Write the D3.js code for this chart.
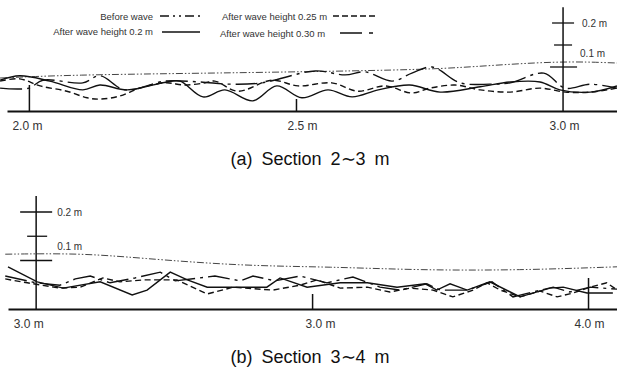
<!DOCTYPE html>
<html>
<head>
<meta charset="utf-8">
<script src="https://cdn.jsdelivr.net/npm/d3@7/dist/d3.min.js"></script>
<style>
  body { margin: 0; background: #fff; }
  text { font-family: "Liberation Sans", Arial, sans-serif; }
</style>
</head>
<body>
<svg id="chart" width="617" height="371"></svg>
<script>
const seriesNames = ["Before wave", "After wave height 0.2 m", "After wave height 0.25 m", "After wave height 0.30 m"];

// (a) Section 2~3 m  -> [distance (m), elevation above bed (m)]
const beforeA = [[1.946,0.075],[2.077,0.082],[2.339,0.086],[2.723,0.093],[2.826,0.100],[2.994,0.114],[3.101,0.109]];
const h020A = [[1.946,0.070],[1.983,0.080],[2.039,0.068],[2.101,0.048],[2.133,0.059],[2.184,0.048],[2.258,0.066],[2.283,0.068],
  [2.326,0.032],[2.367,0.048],[2.419,0.023],[2.464,0.057],[2.511,0.030],[2.560,0.048],[2.605,0.032],[2.654,0.048],[2.713,0.059],
  [2.770,0.043],[2.845,0.055],[2.901,0.066],[2.957,0.066],[2.994,0.048],[3.051,0.043],[3.101,0.057]];
const h025A = [[1.946,0.068],[1.983,0.073],[2.021,0.057],[2.071,0.045],[2.109,0.030],[2.133,0.027],[2.170,0.034],[2.208,0.052],
  [2.255,0.064],[2.292,0.059],[2.330,0.064],[2.348,0.068],[2.391,0.045],[2.455,0.070],[2.504,0.057],[2.567,0.064],[2.616,0.045],
  [2.667,0.057],[2.717,0.041],[2.751,0.052],[2.798,0.059],[2.845,0.048],[2.901,0.043],[2.957,0.052],[3.004,0.043],[3.051,0.043],[3.101,0.052]];
const h030A = [[1.946,0.052],[2.000,0.052],[2.026,0.070],[2.101,0.064],[2.133,0.080],[2.180,0.048],[2.255,0.068],[2.320,0.066],
  [2.376,0.061],[2.436,0.064],[2.536,0.091],[2.592,0.082],[2.629,0.089],[2.680,0.068],[2.717,0.086],[2.755,0.100],[2.807,0.064],
  [2.863,0.061],[2.901,0.064],[2.964,0.086],[3.004,0.052],[3.051,0.061],[3.101,0.052]];

// (b) Section 3~4 m
const beforeB = [[2.944,0.113],[3.080,0.115],[3.188,0.105],[3.370,0.089],[3.533,0.087],[3.696,0.080],[3.877,0.080],[4.053,0.087]];
const h020B = [[2.949,0.087],[3.002,0.056],[3.049,0.043],[3.116,0.056],[3.174,0.029],[3.201,0.039],[3.243,0.076],[3.274,0.060],
  [3.310,0.045],[3.370,0.045],[3.418,0.045],[3.442,0.064],[3.491,0.045],[3.551,0.054],[3.600,0.054],[3.654,0.045],[3.705,0.052],
  [3.726,0.039],[3.750,0.052],[3.781,0.039],[3.822,0.056],[3.877,0.025],[3.931,0.043],[3.955,0.045],[3.998,0.033],[4.045,0.033]];
const h025B = [[2.944,0.062],[2.984,0.054],[3.043,0.043],[3.080,0.045],[3.121,0.064],[3.152,0.056],[3.194,0.060],[3.255,0.060],
  [3.310,0.031],[3.357,0.045],[3.429,0.039],[3.478,0.049],[3.509,0.060],[3.551,0.043],[3.600,0.045],[3.641,0.035],[3.678,0.043],
  [3.719,0.039],[3.755,0.025],[3.792,0.039],[3.817,0.054],[3.841,0.039],[3.877,0.025],[3.913,0.037],[3.944,0.025],[3.973,0.033],
  [4.004,0.045],[4.034,0.054],[4.053,0.039]];
const h030B = [[2.944,0.068],[3.000,0.054],[3.043,0.049],[3.071,0.062],[3.098,0.068],[3.134,0.054],[3.179,0.064],[3.225,0.076],
  [3.252,0.058],[3.324,0.068],[3.370,0.058],[3.393,0.068],[3.433,0.058],[3.478,0.068],[3.527,0.054],[3.574,0.066],[3.623,0.045],
  [3.659,0.039],[3.708,0.052],[3.732,0.039],[3.781,0.039],[3.826,0.056],[3.864,0.025],[3.900,0.035],[3.937,0.045],[3.967,0.035],
  [4.004,0.045],[4.053,0.041]];

const ticksA = [2.0, 2.5, 3.0];
const tickLabelsA = ["2.0 m", "2.5 m", "3.0 m"];
const ticksB = [3.0, 3.5, 4.0];
const tickLabelsB = ["3.0 m", "3.0 m", "4.0 m"];
const scaleTicks = [0.1, 0.15, 0.2];
const scaleLabels = ["0.1 m", "", "0.2 m"];
const captions = ["(a) Section 2\u223C3 m", "(b) Section 3\u223C4 m"];

const dashes = ["7,2,1.5,2,1.5,2", null, "6,3.5", "22,5,3,5"];
const strokeW = [1, 1.4, 1.4, 1.4];
const strokeC = ["#444", "#111", "#111", "#111"];

const svg = d3.select("#chart");

function drawPanel(p) {
  const x = d3.scaleLinear().domain(p.xDomain).range(p.xRange);
  const y = d3.scaleLinear().domain([0, 0.1]).range([p.y0, p.y01]);
  const g = svg.append("g");

  // water surfaces
  const line = d3.line().x(d => x(d[0])).y(d => y(d[1]));
  p.series.forEach((s, i) => {
    g.append("path").datum(s)
      .attr("d", i === 0 ? line.curve(d3.curveBasis)(s) : line.curve(p.curve)(s))
      .attr("fill", "none")
      .attr("stroke", strokeC[i])
      .attr("stroke-width", strokeW[i])
      .attr("stroke-dasharray", dashes[i]);
  });

  // bed line + ticks
  const ax = g.append("g").attr("transform", `translate(0,${p.y0})`)
    .call(d3.axisBottom(x).tickValues(p.ticks)
      .tickFormat((d, i) => p.tickLabels[i])
      .tickSizeOuter(0).tickSizeInner(0).tickPadding(p.labelPad));
  ax.select(".domain").attr("stroke", "#111").attr("stroke-width", 2.2);
  ax.selectAll(".tick line").attr("stroke", "#111").attr("stroke-width", 1.5)
    .attr("y2", (d, i) => -p.tickLen[i]);
  ax.selectAll(".tick text").attr("font-size", 12).attr("fill", "#333")
    .attr("font-family", "Liberation Sans, Arial, sans-serif")
    .attr("dx", (d, i) => p.labelDx[i]);

  // vertical scale bar
  const sx = x(p.barAt);
  g.append("line").attr("x1", sx).attr("x2", sx)
    .attr("y1", y(0)).attr("y2", y(p.barTop))
    .attr("stroke", "#111").attr("stroke-width", 1.5);
  scaleTicks.forEach((t, i) => {
    g.append("line").attr("x1", sx - p.barHalf[i][0]).attr("x2", sx + p.barHalf[i][1])
      .attr("y1", y(t)).attr("y2", y(t)).attr("stroke", "#111").attr("stroke-width", 1.3);
  });
  g.append("text").attr("x", sx + p.barLabelDx[0]).attr("y", y(0.2) + 4)
    .attr("font-size", 10).attr("fill", "#333").text(scaleLabels[2]);
  g.append("text").attr("x", sx + p.barLabelDx[1]).attr("y", y(0.1) - p.lbl01Up)
    .attr("font-size", 10).attr("fill", "#333").text(scaleLabels[0]);

  svg.append("text").attr("x", 310).attr("y", p.capY).attr("text-anchor", "middle")
    .attr("font-size", 18).attr("fill", "#111")
    .attr("font-family", "Noto Sans CJK KR, Liberation Sans, sans-serif")
    .attr("word-spacing", 4).text(p.caption);
}

drawPanel({
  series: [beforeA, h020A, h025A, h030A],
  xDomain: [1.959, 3.101], xRange: [7, 617],
  y0: 111, y01: 67, curve: d3.curveCatmullRom.alpha(0.5),
  ticks: ticksA, tickLabels: tickLabelsA, tickLen: [26, 12, 0], labelPad: 10, labelDx: [-2, 6, 1],
  barAt: 3.0, barTop: 0.236, barHalf: [[13, 14], [9, 9], [11, 11]], barLabelDx: [19, 17], lbl01Up: 10,
  capY: 165, caption: captions[0]
});

drawPanel({
  series: [beforeB, h020B, h025B, h030B],
  xDomain: [2.949, 4.0525], xRange: [8, 617],
  y0: 309, y01: 260.5, curve: d3.curveLinear,
  ticks: ticksB, tickLabels: tickLabelsB, tickLen: [0, 15, 31], labelPad: 10, labelDx: [-8, 8, 1],
  barAt: 3.0, barTop: 0.233, barHalf: [[16, 16], [9, 11], [16, 16]], barLabelDx: [21, 21], lbl01Up: 11,
  capY: 363, caption: captions[1]
});

// legend
const legend = [
  { i: 0, tx: 153, ty: 20, x1: 160, x2: 200, ly: 16, anchor: "end" },
  { i: 1, tx: 153, ty: 35, x1: 162, x2: 200, ly: 32, anchor: "end" },
  { i: 2, tx: 222, ty: 20, x1: 333, x2: 378, ly: 16, anchor: "start" },
  { i: 3, tx: 220, ty: 37, x1: 340, x2: 378, ly: 33, anchor: "start" }
];
legend.forEach(l => {
  svg.append("text").attr("x", l.tx).attr("y", l.ty).attr("text-anchor", l.anchor)
    .attr("font-size", 9.5).attr("fill", "#333").text(seriesNames[l.i]);
  svg.append("line").attr("x1", l.x1).attr("x2", l.x2).attr("y1", l.ly).attr("y2", l.ly)
    .attr("stroke", "#111").attr("stroke-width", l.i === 0 ? 1.6 : 1.5)
    .attr("stroke-dasharray", l.i === 0 ? "9,4,2,4,2,4" : l.i === 3 ? "22,7,4,20" : l.i === 2 ? "6,3" : null);
});
</script>
</body>
</html>
